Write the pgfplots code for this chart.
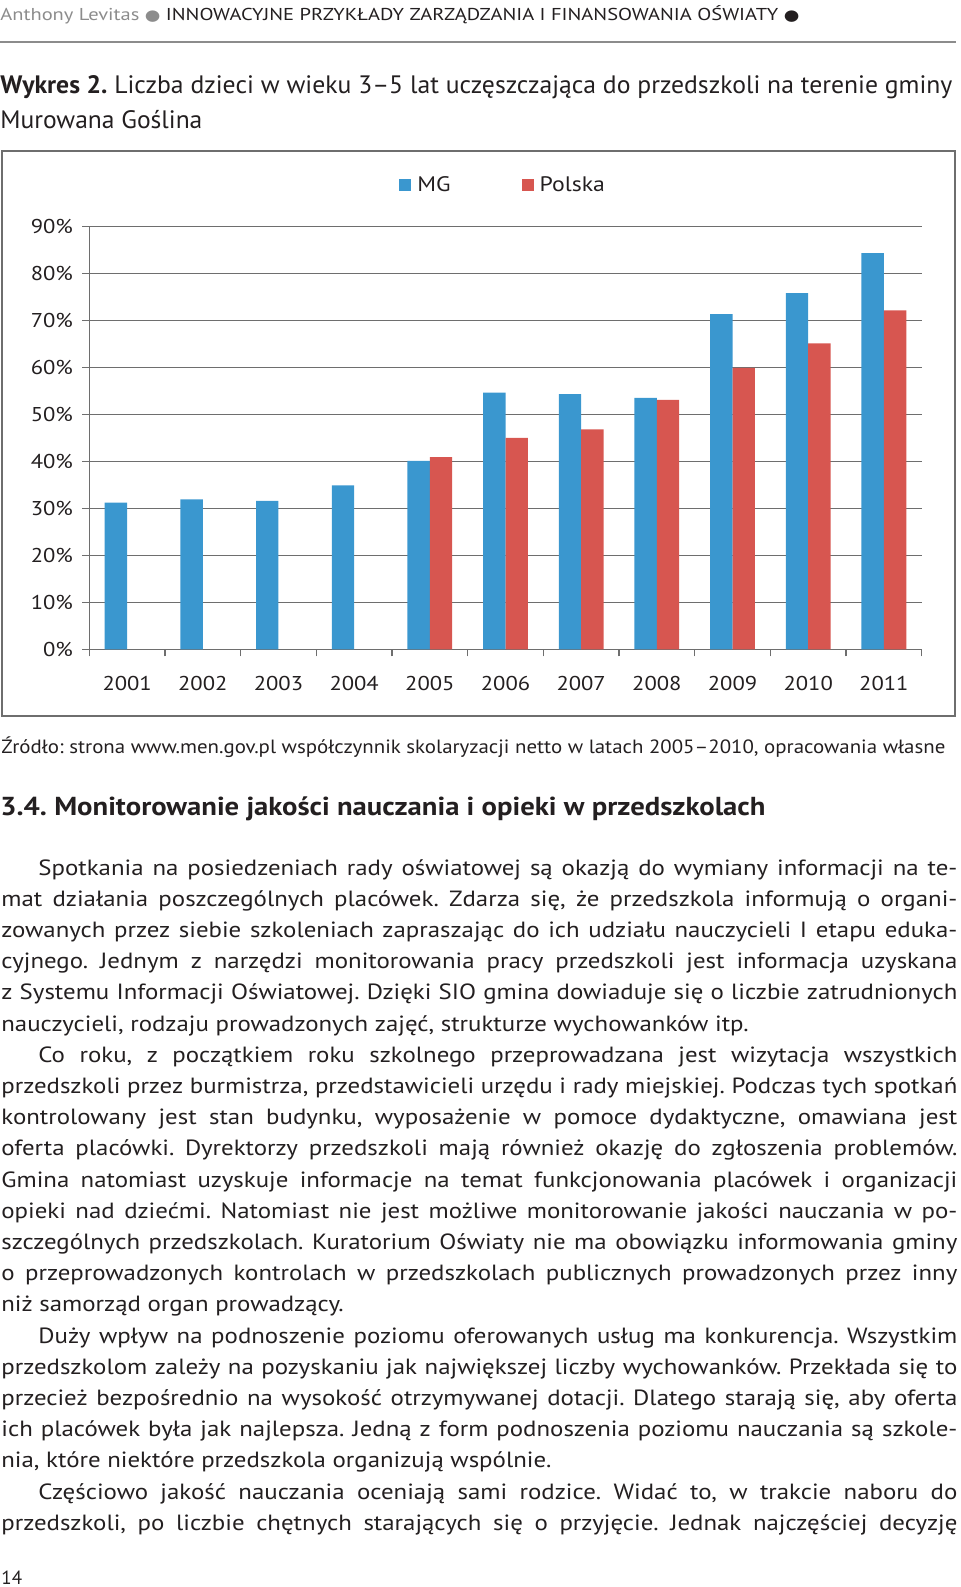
\documentclass[border=0pt]{standalone}
\usepackage{pgfplots}
\pgfplotsset{compat=1.18}
\usepackage{graphicx}
\usepackage{fontspec}
\setmainfont{PT Sans}
\newfontfamily\widefam{PT Sans}[FakeStretch=1.13]
\newfontfamily\dejavu{DejaVu Sans}
\frenchspacing

\definecolor{mgblue}{HTML}{3A97CF}
\definecolor{plred}{HTML}{D75650}
\definecolor{axgray}{HTML}{6E6E6E}
\definecolor{txt}{HTML}{231F20}
\definecolor{hdgray}{HTML}{8C8C8C}

\newcommand\bul[1]{{\dejavu\fontsize{7.5}{8}\selectfont\color{#1}●}}
\newcommand\bodyfont{\widefam\fontsize{11}{12}\selectfont\color{txt}}
% full justified line, indented justified line, natural line (y in px)
\newcommand\FL[2]{\node[anchor=base west,inner sep=0pt,font=\bodyfont] at (1,-#1) {\hbox to 478pt{#2}};}
\newcommand\IL[2]{\node[anchor=base west,inner sep=0pt,font=\bodyfont] at (38,-#1) {\hbox to 459.5pt{#2}};}
\newcommand\NL[2]{\node[anchor=base west,inner sep=0pt,font=\bodyfont] at (1,-#1) {#2};}

\begin{document}
\begin{tikzpicture}[x=0.5pt,y=0.5pt]
\useasboundingbox (0,0) rectangle (960,-1587);
\coordinate (axorig) at (89.3,-649.3);

% running header
\node[anchor=base west,inner sep=0pt] at (0,-20) {\resizebox{399.5pt}{\height}{\fontsize{8.6}{10}\selectfont\color{hdgray}Anthony Levitas \bul{hdgray} \color{txt}INNOWACYJNE PRZYKŁADY ZARZĄDZANIA I FINANSOWANIA OŚWIATY \bul{txt}}};
\draw[hdgray,line width=1pt] (0,-41.7) -- (956,-41.7);

% caption
\node[anchor=base west,inner sep=0pt] at (0,-93.3) {\resizebox{476pt}{\height}{\fontsize{12.6}{14}\selectfont\color{txt}\textbf{Wykres 2.} Liczba dzieci w wieku 3--5 lat uczęszczająca do przedszkoli na terenie gminy}};
\node[anchor=base west,inner sep=0pt] at (0,-128.3) {\resizebox{101pt}{\height}{\fontsize{12.6}{14}\selectfont\color{txt}Murowana Goślina}};

% chart frame
\draw[axgray,line width=1pt] (1.7,-151) rectangle (955,-716);

\begin{axis}[
  at={(axorig)}, anchor=south west,
  scale only axis, width=416.2pt, height=211.5pt,
  xmin=-0.5, xmax=10.5, ymin=0, ymax=90,
  axis x line=bottom, axis y line=left,
  axis line style={-, draw=axgray, line width=0.65pt},
  ymajorgrids, grid style={axgray, line width=0.65pt},
  tick style={axgray, line width=0.65pt},
  tick align=outside, major tick length=3.5pt,
  ytick={0,10,...,90},
  yticklabels={0\%,10\%,20\%,30\%,40\%,50\%,60\%,70\%,80\%,90\%},
  yticklabel style={inner sep=0pt, xshift=-4.5pt},
  xtick={-0.5,0.5,...,10.5}, xticklabels={},
  extra x ticks={0,1,2,3,4,5,6,7,8,9,10},
  extra x tick labels={2001,2002,2003,2004,2005,2006,2007,2008,2009,2010,2011},
  extra x tick style={major tick length=0pt},
  xticklabel style={inner sep=0pt, yshift=-13.3pt},
  tick label style={font=\widefam\fontsize{10}{12}\selectfont, text=txt},
  /pgf/number format/assume math mode=true,
  ybar, bar width=11.2pt,
  legend style={at={(0.3721,1.0969)}, anchor=west, draw=none, fill=none,
    inner sep=0pt, legend columns=2, font=\widefam\fontsize{10.5}{12}\selectfont,
    text=txt,
    /tikz/every odd column/.append style={column sep=1pt},
    /tikz/every even column/.append style={column sep=33.5pt}},
  legend image code/.code={\fill[#1] (0pt,-3pt) rectangle (6pt,3pt);},
  legend cell align=left,
]
\addplot[fill=mgblue, draw=none, bar shift=-5.6pt] coordinates {
  (0,31.2) (1,31.9) (2,31.6) (3,34.9) (4,40.1) (5,54.6)
  (6,54.3) (7,53.5) (8,71.3) (9,75.8) (10,84.3)
};
\addlegendentry{MG}
\addplot[fill=plred, draw=none, bar shift=5.6pt] coordinates {
  (4,40.9) (5,45.0) (6,46.8) (7,53.1) (8,59.9) (9,65.1) (10,72.1)
};
\addlegendentry{Polska}
\end{axis}

% source
\node[anchor=base west,inner sep=0pt] at (1,-753.3) {\resizebox{472pt}{\height}{\fontsize{9.6}{11}\selectfont\color{txt}Źródło: strona www.men.gov.pl współczynnik skolaryzacji netto w latach 2005--2010, opracowania własne}};

% section heading
\node[anchor=base west,inner sep=0pt] at (0,-815) {\resizebox{382.5pt}{\height}{\fontsize{13}{15}\selectfont\bfseries\color{txt}3.4. Monitorowanie jakości nauczania i opieki w przedszkolach}};

% body text
\IL{875}{Spotkania na posiedzeniach rady oświatowej są okazją do wymiany informacji na te-}
\FL{906.2}{mat działania poszczególnych placówek. Zdarza się, że przedszkola informują o organi-}
\FL{937.4}{zowanych przez siebie szkoleniach zapraszając do ich udziału nauczycieli I etapu eduka-}
\FL{968.6}{cyjnego. Jednym z narzędzi monitorowania pracy przedszkoli jest informacja uzyskana}
\FL{999.8}{z Systemu Informacji Oświatowej. Dzięki SIO gmina dowiaduje się o liczbie zatrudnionych}
\NL{1031}{nauczycieli, rodzaju prowadzonych zajęć, strukturze wychowanków itp.}
\IL{1062.2}{Co roku, z początkiem roku szkolnego przeprowadzana jest wizytacja wszystkich}
\FL{1093.4}{przedszkoli przez burmistrza, przedstawicieli urzędu i rady miejskiej. Podczas tych spotkań}
\FL{1124.6}{kontrolowany jest stan budynku, wyposażenie w pomoce dydaktyczne, omawiana jest}
\FL{1155.8}{oferta placówki. Dyrektorzy przedszkoli mają również okazję do zgłoszenia problemów.}
\FL{1187}{Gmina natomiast uzyskuje informacje na temat funkcjonowania placówek i organizacji}
\FL{1218.2}{opieki nad dziećmi. Natomiast nie jest możliwe monitorowanie jakości nauczania w po-}
\FL{1249.4}{szczególnych przedszkolach. Kuratorium Oświaty nie ma obowiązku informowania gminy}
\FL{1280.6}{o przeprowadzonych kontrolach w przedszkolach publicznych prowadzonych przez inny}
\NL{1311.8}{niż samorząd organ prowadzący.}
\IL{1343}{Duży wpływ na podnoszenie poziomu oferowanych usług ma konkurencja. Wszystkim}
\FL{1374.2}{przedszkolom zależy na pozyskaniu jak największej liczby wychowanków. Przekłada się to}
\FL{1405.4}{przecież bezpośrednio na wysokość otrzymywanej dotacji. Dlatego starają się, aby oferta}
\FL{1436.6}{ich placówek była jak najlepsza. Jedną z form podnoszenia poziomu nauczania są szkole-}
\NL{1467.8}{nia, które niektóre przedszkola organizują wspólnie.}
\IL{1499}{Częściowo jakość nauczania oceniają sami rodzice. Widać to, w trakcie naboru do}
\FL{1530.2}{przedszkoli, po liczbie chętnych starających się o przyjęcie. Jednak najczęściej decyzję}

% page number
\node[anchor=base west,inner sep=0pt,font=\fontsize{9.5}{11}\selectfont,text=txt] at (1,-1584) {14};
\end{tikzpicture}
\end{document}
